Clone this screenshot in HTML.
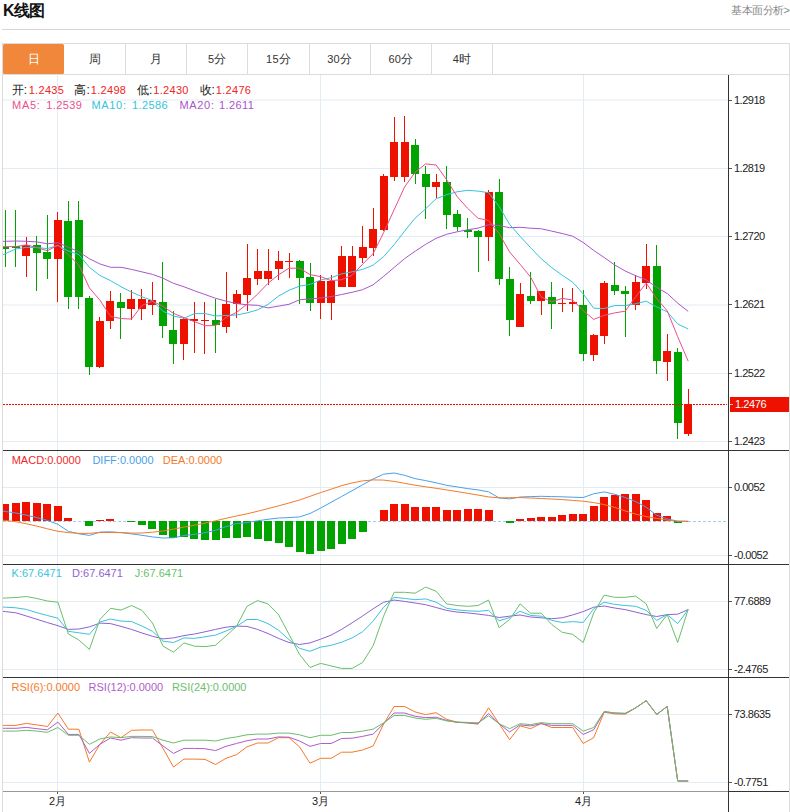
<!DOCTYPE html><html><head><meta charset="utf-8"><style>
html,body{margin:0;padding:0;background:#fff;}
body{width:790px;height:812px;overflow:hidden;position:relative;font-family:"Liberation Sans",sans-serif;}
.h{position:absolute;left:3px;top:1px;font-size:16px;font-weight:bold;line-height:20px;color:#111;letter-spacing:-0.7px;}
.more{position:absolute;right:0.5px;top:3px;font-size:11px;letter-spacing:-0.5px;line-height:14px;color:#888;}
.hr{position:absolute;left:2px;top:29px;width:788px;height:1px;background:#d6d6d6;}
svg{position:absolute;left:0;top:0;}
svg text{font-family:"Liberation Sans",sans-serif;}
</style></head><body>
<div class="h">K线图</div>
<div class="more">基本面分析&gt;</div>
<div class="hr"></div>
<svg width="790" height="812" viewBox="0 0 790 812">
<defs>
<clipPath id="cm"><rect x="3" y="75" width="725" height="375"/></clipPath>
<clipPath id="cp"><rect x="3" y="451" width="725" height="340"/></clipPath>
</defs>

<rect x="2" y="43" width="787" height="1" fill="#dcdcdc"/>
<rect x="3" y="44" width="61" height="30" rx="1.5" fill="#f0873a"/>
<rect x="125" y="44" width="1" height="30" fill="#dcdcdc"/>
<rect x="186" y="44" width="1" height="30" fill="#dcdcdc"/>
<rect x="247" y="44" width="1" height="30" fill="#dcdcdc"/>
<rect x="309" y="44" width="1" height="30" fill="#dcdcdc"/>
<rect x="370" y="44" width="1" height="30" fill="#dcdcdc"/>
<rect x="431" y="44" width="1" height="30" fill="#dcdcdc"/>
<rect x="492" y="44" width="1" height="30" fill="#dcdcdc"/>
<text x="33.6" y="62.5" font-size="12" fill="#fff" text-anchor="middle">日</text>
<text x="94.8" y="62.5" font-size="12" fill="#333" text-anchor="middle">周</text>
<text x="156.0" y="62.5" font-size="12" fill="#333" text-anchor="middle">月</text>
<text x="217.2" y="62.5" font-size="12" fill="#333" text-anchor="middle"><tspan font-size="11" letter-spacing="0.3">5</tspan>分</text>
<text x="278.4" y="62.5" font-size="12" fill="#333" text-anchor="middle"><tspan font-size="11" letter-spacing="0.3">15</tspan>分</text>
<text x="339.6" y="62.5" font-size="12" fill="#333" text-anchor="middle"><tspan font-size="11" letter-spacing="0.3">30</tspan>分</text>
<text x="400.8" y="62.5" font-size="12" fill="#333" text-anchor="middle"><tspan font-size="11" letter-spacing="0.3">60</tspan>分</text>
<text x="462.0" y="62.5" font-size="12" fill="#333" text-anchor="middle"><tspan font-size="11" letter-spacing="0.3">4</tspan>时</text>
<rect x="2" y="74" width="787" height="1" fill="#dcdcdc"/>
<rect x="2" y="43" width="1" height="769" fill="#dcdcdc"/>
<rect x="789" y="43" width="1" height="769" fill="#dcdcdc"/>
<line x1="3" y1="100.0" x2="728" y2="100.0" stroke="#e4ecf3" stroke-width="1"/>
<line x1="3" y1="168.5" x2="728" y2="168.5" stroke="#e4ecf3" stroke-width="1"/>
<line x1="3" y1="236.5" x2="728" y2="236.5" stroke="#e4ecf3" stroke-width="1"/>
<line x1="3" y1="305.0" x2="728" y2="305.0" stroke="#e4ecf3" stroke-width="1"/>
<line x1="3" y1="373.5" x2="728" y2="373.5" stroke="#e4ecf3" stroke-width="1"/>
<line x1="3" y1="441.5" x2="728" y2="441.5" stroke="#e4ecf3" stroke-width="1"/>
<rect x="57" y="75" width="1" height="716" fill="#e4ecf3"/>
<rect x="320" y="75" width="1" height="716" fill="#e4ecf3"/>
<rect x="583" y="75" width="1" height="716" fill="#e4ecf3"/>
<rect x="3" y="487" width="725" height="1" fill="#e4ecf3"/>
<rect x="3" y="555" width="725" height="1" fill="#e4ecf3"/>
<rect x="3" y="601" width="725" height="1" fill="#e4ecf3"/>
<rect x="3" y="669" width="725" height="1" fill="#e4ecf3"/>
<rect x="3" y="714" width="725" height="1" fill="#e4ecf3"/>
<rect x="3" y="782" width="725" height="1" fill="#e4ecf3"/>
<rect x="728" y="75" width="1" height="737" fill="#333"/>
<rect x="3" y="450" width="786" height="1" fill="#333"/>
<rect x="3" y="564" width="786" height="1" fill="#333"/>
<rect x="3" y="677" width="786" height="1" fill="#333"/>
<rect x="3" y="791" width="725" height="1" fill="#999"/>
<rect x="728" y="791" width="61" height="1" fill="#333"/>
<rect x="729" y="100" width="3" height="1" fill="#555"/>
<text x="734" y="103.7" font-size="11" letter-spacing="-0.5" fill="#222">1.2918</text>
<rect x="729" y="168" width="3" height="1" fill="#555"/>
<text x="734" y="171.7" font-size="11" letter-spacing="-0.5" fill="#222">1.2819</text>
<rect x="729" y="236" width="3" height="1" fill="#555"/>
<text x="734" y="239.7" font-size="11" letter-spacing="-0.5" fill="#222">1.2720</text>
<rect x="729" y="304" width="3" height="1" fill="#555"/>
<text x="734" y="308.2" font-size="11" letter-spacing="-0.5" fill="#222">1.2621</text>
<rect x="729" y="373" width="3" height="1" fill="#555"/>
<text x="734" y="376.7" font-size="11" letter-spacing="-0.5" fill="#222">1.2522</text>
<rect x="729" y="441" width="3" height="1" fill="#555"/>
<text x="734" y="444.7" font-size="11" letter-spacing="-0.5" fill="#222">1.2423</text>
<rect x="729" y="487" width="3" height="1" fill="#555"/>
<text x="734" y="490.7" font-size="11" letter-spacing="-0.5" fill="#222">0.0052</text>
<rect x="729" y="555" width="3" height="1" fill="#555"/>
<text x="734" y="558.7" font-size="11" letter-spacing="-0.5" fill="#222">-0.0052</text>
<rect x="729" y="601" width="3" height="1" fill="#555"/>
<text x="734" y="604.7" font-size="11" letter-spacing="-0.5" fill="#222">77.6889</text>
<rect x="729" y="669" width="3" height="1" fill="#555"/>
<text x="734" y="672.7" font-size="11" letter-spacing="-0.5" fill="#222">-2.4765</text>
<rect x="729" y="714" width="3" height="1" fill="#555"/>
<text x="734" y="717.7" font-size="11" letter-spacing="-0.5" fill="#222">73.8635</text>
<rect x="729" y="782" width="3" height="1" fill="#555"/>
<text x="734" y="785.7" font-size="11" letter-spacing="-0.5" fill="#222">-0.7751</text>
<rect x="57" y="792" width="1" height="2" fill="#555"/>
<text x="57.5" y="805" font-size="11" fill="#222" text-anchor="middle">2月</text>
<rect x="320" y="792" width="1" height="2" fill="#555"/>
<text x="320.5" y="805" font-size="11" fill="#222" text-anchor="middle">3月</text>
<rect x="583" y="792" width="1" height="2" fill="#555"/>
<text x="583.5" y="805" font-size="11" fill="#222" text-anchor="middle">4月</text>
<rect x="730" y="397" width="59" height="15" fill="#ee1100"/>
<rect x="730" y="404" width="3" height="1" fill="#f9b8b0"/>
<text x="735" y="408.2" font-size="11" letter-spacing="-0.4" fill="#fff">1.2476</text>
<g clip-path="url(#cm)" shape-rendering="crispEdges">
<rect x="5" y="210.0" width="1" height="56.7" fill="#00a300"/>
<rect x="1" y="246.6" width="8" height="2.3" fill="#00a300"/>
<rect x="15" y="210.0" width="1" height="56.7" fill="#00a300"/>
<rect x="12" y="246.0" width="8" height="2.0" fill="#00a300"/>
<rect x="26" y="236.8" width="1" height="39.7" fill="#ee1100"/>
<rect x="22" y="245.0" width="8" height="11.0" fill="#ee1100"/>
<rect x="36" y="235.6" width="1" height="55.4" fill="#00a300"/>
<rect x="33" y="245.0" width="8" height="7.7" fill="#00a300"/>
<rect x="47" y="215.0" width="1" height="64.3" fill="#00a300"/>
<rect x="43" y="252.0" width="8" height="7.4" fill="#00a300"/>
<rect x="57" y="211.7" width="1" height="90.1" fill="#ee1100"/>
<rect x="54" y="220.0" width="8" height="39.0" fill="#ee1100"/>
<rect x="68" y="200.5" width="1" height="108.5" fill="#00a300"/>
<rect x="64" y="220.6" width="8" height="76.3" fill="#00a300"/>
<rect x="78" y="200.5" width="1" height="108.0" fill="#00a300"/>
<rect x="75" y="220.0" width="8" height="76.9" fill="#00a300"/>
<rect x="89" y="296.4" width="1" height="79.0" fill="#00a300"/>
<rect x="85" y="298.0" width="8" height="68.5" fill="#00a300"/>
<rect x="99" y="317.4" width="1" height="51.0" fill="#ee1100"/>
<rect x="96" y="320.5" width="8" height="46.0" fill="#ee1100"/>
<rect x="110" y="290.5" width="1" height="38.1" fill="#ee1100"/>
<rect x="106" y="300.6" width="8" height="20.8" fill="#ee1100"/>
<rect x="120" y="293.0" width="1" height="45.7" fill="#00a300"/>
<rect x="117" y="301.8" width="8" height="6.6" fill="#00a300"/>
<rect x="131" y="289.7" width="1" height="30.1" fill="#ee1100"/>
<rect x="127" y="298.8" width="8" height="10.0" fill="#ee1100"/>
<rect x="141" y="289.0" width="1" height="30.8" fill="#ee1100"/>
<rect x="138" y="298.8" width="8" height="10.0" fill="#ee1100"/>
<rect x="152" y="282.0" width="1" height="32.7" fill="#ee1100"/>
<rect x="148" y="300.0" width="8" height="5.3" fill="#ee1100"/>
<rect x="162" y="261.6" width="1" height="76.0" fill="#00a300"/>
<rect x="159" y="301.8" width="8" height="23.9" fill="#00a300"/>
<rect x="173" y="311.2" width="1" height="52.6" fill="#00a300"/>
<rect x="169" y="329.9" width="8" height="14.0" fill="#00a300"/>
<rect x="183" y="316.6" width="1" height="43.2" fill="#ee1100"/>
<rect x="180" y="319.4" width="8" height="24.5" fill="#ee1100"/>
<rect x="194" y="302.3" width="1" height="51.0" fill="#ee1100"/>
<rect x="190" y="319.4" width="8" height="1.6" fill="#ee1100"/>
<rect x="204" y="301.8" width="1" height="51.9" fill="#ee1100"/>
<rect x="201" y="320.0" width="8" height="1.0" fill="#ee1100"/>
<rect x="215" y="298.8" width="1" height="54.5" fill="#00a300"/>
<rect x="212" y="320.0" width="8" height="5.2" fill="#00a300"/>
<rect x="226" y="271.9" width="1" height="61.5" fill="#ee1100"/>
<rect x="222" y="303.7" width="8" height="23.4" fill="#ee1100"/>
<rect x="236" y="289.8" width="1" height="28.2" fill="#ee1100"/>
<rect x="233" y="293.8" width="8" height="10.5" fill="#ee1100"/>
<rect x="247" y="243.6" width="1" height="67.3" fill="#ee1100"/>
<rect x="243" y="277.7" width="8" height="16.9" fill="#ee1100"/>
<rect x="257" y="249.0" width="1" height="36.2" fill="#ee1100"/>
<rect x="254" y="270.7" width="8" height="8.0" fill="#ee1100"/>
<rect x="268" y="249.0" width="1" height="36.2" fill="#ee1100"/>
<rect x="264" y="270.7" width="8" height="8.0" fill="#ee1100"/>
<rect x="278" y="250.6" width="1" height="29.2" fill="#ee1100"/>
<rect x="275" y="260.9" width="8" height="8.4" fill="#ee1100"/>
<rect x="289" y="252.5" width="1" height="25.2" fill="#ee1100"/>
<rect x="285" y="260.9" width="8" height="1.0" fill="#ee1100"/>
<rect x="299" y="259.5" width="1" height="44.4" fill="#00a300"/>
<rect x="296" y="260.9" width="8" height="16.8" fill="#00a300"/>
<rect x="310" y="263.0" width="1" height="47.5" fill="#00a300"/>
<rect x="306" y="276.8" width="8" height="25.9" fill="#00a300"/>
<rect x="320" y="274.7" width="1" height="44.4" fill="#ee1100"/>
<rect x="317" y="281.0" width="8" height="21.7" fill="#ee1100"/>
<rect x="331" y="274.7" width="1" height="45.1" fill="#ee1100"/>
<rect x="327" y="281.0" width="8" height="21.7" fill="#ee1100"/>
<rect x="341" y="245.5" width="1" height="41.5" fill="#ee1100"/>
<rect x="338" y="256.0" width="8" height="30.8" fill="#ee1100"/>
<rect x="352" y="246.2" width="1" height="40.8" fill="#ee1100"/>
<rect x="348" y="256.0" width="8" height="30.8" fill="#ee1100"/>
<rect x="362" y="226.3" width="1" height="36.2" fill="#ee1100"/>
<rect x="359" y="246.8" width="8" height="11.0" fill="#ee1100"/>
<rect x="373" y="208.0" width="1" height="48.2" fill="#ee1100"/>
<rect x="369" y="228.6" width="8" height="19.2" fill="#ee1100"/>
<rect x="383" y="174.4" width="1" height="56.6" fill="#ee1100"/>
<rect x="380" y="176.0" width="8" height="53.8" fill="#ee1100"/>
<rect x="394" y="116.8" width="1" height="64.6" fill="#ee1100"/>
<rect x="390" y="141.6" width="8" height="35.1" fill="#ee1100"/>
<rect x="404" y="116.4" width="1" height="65.4" fill="#ee1100"/>
<rect x="401" y="141.6" width="8" height="35.1" fill="#ee1100"/>
<rect x="415" y="138.6" width="1" height="45.6" fill="#00a300"/>
<rect x="411" y="144.9" width="8" height="28.7" fill="#00a300"/>
<rect x="425" y="165.5" width="1" height="53.3" fill="#00a300"/>
<rect x="422" y="173.6" width="8" height="12.9" fill="#00a300"/>
<rect x="436" y="173.6" width="1" height="24.6" fill="#ee1100"/>
<rect x="432" y="181.8" width="8" height="5.2" fill="#ee1100"/>
<rect x="446" y="165.5" width="1" height="63.1" fill="#00a300"/>
<rect x="443" y="182.3" width="8" height="32.3" fill="#00a300"/>
<rect x="457" y="209.9" width="1" height="21.0" fill="#00a300"/>
<rect x="453" y="213.9" width="8" height="12.8" fill="#00a300"/>
<rect x="467" y="217.9" width="1" height="19.9" fill="#00a300"/>
<rect x="464" y="229.6" width="8" height="2.4" fill="#00a300"/>
<rect x="478" y="229.6" width="1" height="42.8" fill="#00a300"/>
<rect x="474" y="230.8" width="8" height="5.8" fill="#00a300"/>
<rect x="488" y="189.9" width="1" height="70.8" fill="#ee1100"/>
<rect x="485" y="192.2" width="8" height="44.4" fill="#ee1100"/>
<rect x="499" y="178.9" width="1" height="105.7" fill="#00a300"/>
<rect x="495" y="192.2" width="8" height="87.2" fill="#00a300"/>
<rect x="509" y="267.0" width="1" height="69.0" fill="#00a300"/>
<rect x="506" y="278.7" width="8" height="40.9" fill="#00a300"/>
<rect x="520" y="282.7" width="1" height="44.4" fill="#ee1100"/>
<rect x="516" y="293.9" width="8" height="32.8" fill="#ee1100"/>
<rect x="530" y="272.2" width="1" height="31.5" fill="#00a300"/>
<rect x="527" y="295.8" width="8" height="4.7" fill="#00a300"/>
<rect x="541" y="291.1" width="1" height="23.9" fill="#ee1100"/>
<rect x="537" y="291.1" width="8" height="9.8" fill="#ee1100"/>
<rect x="551" y="281.8" width="1" height="46.7" fill="#00a300"/>
<rect x="548" y="297.4" width="8" height="6.3" fill="#00a300"/>
<rect x="562" y="288.1" width="1" height="24.1" fill="#ee1100"/>
<rect x="558" y="302.6" width="8" height="1.4" fill="#ee1100"/>
<rect x="572" y="287.6" width="1" height="24.6" fill="#ee1100"/>
<rect x="569" y="302.3" width="8" height="1.9" fill="#ee1100"/>
<rect x="583" y="290.2" width="1" height="70.4" fill="#00a300"/>
<rect x="579" y="304.5" width="8" height="49.0" fill="#00a300"/>
<rect x="593" y="334.4" width="1" height="26.2" fill="#ee1100"/>
<rect x="590" y="335.0" width="8" height="20.4" fill="#ee1100"/>
<rect x="604" y="280.6" width="1" height="63.8" fill="#ee1100"/>
<rect x="600" y="282.9" width="8" height="53.1" fill="#ee1100"/>
<rect x="614" y="261.9" width="1" height="32.7" fill="#00a300"/>
<rect x="611" y="284.6" width="8" height="6.0" fill="#00a300"/>
<rect x="625" y="286.0" width="1" height="50.7" fill="#00a300"/>
<rect x="621" y="290.6" width="8" height="3.3" fill="#00a300"/>
<rect x="635" y="275.2" width="1" height="34.6" fill="#ee1100"/>
<rect x="632" y="281.8" width="8" height="22.9" fill="#ee1100"/>
<rect x="646" y="243.9" width="1" height="44.9" fill="#ee1100"/>
<rect x="642" y="265.9" width="8" height="17.0" fill="#ee1100"/>
<rect x="656" y="244.8" width="1" height="128.9" fill="#00a300"/>
<rect x="653" y="265.9" width="8" height="95.1" fill="#00a300"/>
<rect x="667" y="334.2" width="1" height="46.4" fill="#ee1100"/>
<rect x="663" y="351.3" width="8" height="10.2" fill="#ee1100"/>
<rect x="677" y="347.7" width="1" height="91.2" fill="#00a300"/>
<rect x="674" y="352.3" width="8" height="71.1" fill="#00a300"/>
<rect x="688" y="389.0" width="1" height="47.1" fill="#ee1100"/>
<rect x="684" y="404.2" width="8" height="29.5" fill="#ee1100"/>
</g>
<line x1="3" y1="404.5" x2="727" y2="404.5" stroke="#ee1100" stroke-width="1" stroke-dasharray="2,1"/>
<polyline points="-5.1,241.6 5.4,241.3 15.9,241.0 26.4,241.3 36.9,241.9 47.4,243.8 57.9,242.7 68.4,247.2 78.9,251.8 89.4,258.8 99.9,263.9 110.5,267.3 121.0,267.3 131.5,269.4 142.0,271.9 152.5,274.4 163.0,278.2 173.5,283.3 184.0,286.8 194.5,290.8 205.0,294.5 215.5,298.3 226.0,301.1 236.5,303.5 247.0,304.8 257.5,305.3 268.0,307.9 278.5,306.1 289.0,304.3 299.5,299.8 310.0,298.9 320.6,298.0 331.1,296.6 341.6,294.5 352.1,292.3 362.6,289.7 373.1,284.8 383.6,276.4 394.1,267.5 404.6,258.6 415.1,251.3 425.6,244.4 436.1,238.3 446.6,234.3 457.1,231.8 467.6,229.8 478.1,228.1 488.6,224.7 499.1,225.6 509.6,227.7 520.1,227.3 530.6,228.2 541.2,228.8 551.7,231.1 562.2,233.5 572.7,236.2 583.2,242.5 593.7,250.4 604.2,257.5 614.7,265.0 625.2,271.0 635.7,275.7 646.2,279.9 656.7,287.3 667.2,293.5 677.7,303.1 688.2,311.4" fill="none" stroke="#aa55cc" stroke-width="1" stroke-linejoin="round" clip-path="url(#cm)"/>
<polyline points="-5.1,258.5 5.4,253.7 15.9,248.9 26.4,247.4 36.9,247.5 47.4,248.6 57.9,245.5 68.4,251.0 78.9,254.6 89.4,267.3 99.9,275.5 110.5,280.6 121.0,286.7 131.5,292.1 142.0,296.7 152.5,300.7 163.0,311.3 173.5,316.0 184.0,318.3 194.5,313.6 205.0,313.5 215.5,316.0 226.0,315.5 236.5,315.0 247.0,312.9 257.5,309.9 268.0,304.4 278.5,296.1 289.0,290.3 299.5,286.1 310.0,284.4 320.6,280.0 331.1,277.7 341.6,273.9 352.1,271.8 362.6,269.4 373.1,265.2 383.6,256.7 394.1,244.7 404.6,231.1 415.1,218.2 425.6,208.8 436.1,198.8 446.6,194.7 457.1,191.8 467.6,190.3 478.1,191.1 488.6,192.7 499.1,206.5 509.6,224.3 520.1,236.3 530.6,247.7 541.2,258.7 551.7,267.6 562.2,275.2 572.7,282.2 583.2,293.9 593.7,308.2 604.2,308.5 614.7,305.6 625.2,305.6 635.7,303.7 646.2,301.2 656.7,306.9 667.2,311.8 677.7,323.9 688.2,329.0" fill="none" stroke="#35c3dc" stroke-width="1" stroke-linejoin="round" clip-path="url(#cm)"/>
<polyline points="-5.1,246.6 5.4,246.6 15.9,246.6 26.4,244.9 36.9,247.5 47.4,250.8 57.9,245.0 68.4,254.8 78.9,265.2 89.4,287.9 99.9,300.2 110.5,316.3 121.0,318.6 131.5,319.0 142.0,305.4 152.5,301.3 163.0,306.3 173.5,313.4 184.0,317.6 194.5,321.7 205.0,325.7 215.5,325.6 226.0,317.5 236.5,312.4 247.0,304.1 257.5,294.2 268.0,283.3 278.5,274.8 289.0,268.2 299.5,268.2 310.0,274.6 320.6,276.6 331.1,280.7 341.6,279.7 352.1,275.3 362.6,264.2 373.1,253.7 383.6,232.7 394.1,209.8 404.6,186.9 415.1,172.3 425.6,163.9 436.1,165.0 446.6,179.6 457.1,196.6 467.6,208.3 478.1,218.3 488.6,220.4 499.1,233.4 509.6,252.0 520.1,264.3 530.6,277.1 541.2,296.9 551.7,301.8 562.2,298.4 572.7,300.0 583.2,310.6 593.7,319.4 604.2,315.3 614.7,312.9 625.2,311.2 635.7,296.8 646.2,283.0 656.7,298.6 667.2,310.8 677.7,336.7 688.2,361.2" fill="none" stroke="#e9508a" stroke-width="1" stroke-linejoin="round" clip-path="url(#cm)"/>
<line x1="3" y1="521.5" x2="726" y2="521.5" stroke="#98d0ee" stroke-width="1" stroke-dasharray="3,2"/>
<g clip-path="url(#cp)" shape-rendering="crispEdges">
<rect x="1" y="504.2" width="8" height="16.8" fill="#ee1100"/>
<rect x="12" y="502.9" width="8" height="18.1" fill="#ee1100"/>
<rect x="22" y="502.1" width="8" height="18.9" fill="#ee1100"/>
<rect x="33" y="502.9" width="8" height="18.1" fill="#ee1100"/>
<rect x="43" y="504.1" width="8" height="16.9" fill="#ee1100"/>
<rect x="54" y="505.9" width="8" height="15.1" fill="#ee1100"/>
<rect x="64" y="517.7" width="8" height="3.3" fill="#ee1100"/>
<rect x="85" y="521" width="8" height="5.3" fill="#00a300"/>
<rect x="96" y="519.7" width="8" height="1.3" fill="#ee1100"/>
<rect x="106" y="518.9" width="8" height="2.1" fill="#ee1100"/>
<rect x="127" y="521" width="8" height="1.0" fill="#00a300"/>
<rect x="138" y="521" width="8" height="3.8" fill="#00a300"/>
<rect x="148" y="521" width="8" height="7.9" fill="#00a300"/>
<rect x="159" y="521" width="8" height="13.7" fill="#00a300"/>
<rect x="169" y="521" width="8" height="16.8" fill="#00a300"/>
<rect x="180" y="521" width="8" height="15.6" fill="#00a300"/>
<rect x="190" y="521" width="8" height="17.8" fill="#00a300"/>
<rect x="201" y="521" width="8" height="18.9" fill="#00a300"/>
<rect x="212" y="521" width="8" height="19.4" fill="#00a300"/>
<rect x="222" y="521" width="8" height="17.3" fill="#00a300"/>
<rect x="233" y="521" width="8" height="16.8" fill="#00a300"/>
<rect x="243" y="521" width="8" height="15.9" fill="#00a300"/>
<rect x="254" y="521" width="8" height="17.6" fill="#00a300"/>
<rect x="264" y="521" width="8" height="19.7" fill="#00a300"/>
<rect x="275" y="521" width="8" height="21.7" fill="#00a300"/>
<rect x="285" y="521" width="8" height="25.8" fill="#00a300"/>
<rect x="296" y="521" width="8" height="30.7" fill="#00a300"/>
<rect x="306" y="521" width="8" height="33.4" fill="#00a300"/>
<rect x="317" y="521" width="8" height="30.1" fill="#00a300"/>
<rect x="327" y="521" width="8" height="27.6" fill="#00a300"/>
<rect x="338" y="521" width="8" height="22.7" fill="#00a300"/>
<rect x="348" y="521" width="8" height="18.0" fill="#00a300"/>
<rect x="359" y="521" width="8" height="10.6" fill="#00a300"/>
<rect x="380" y="509.8" width="8" height="11.2" fill="#ee1100"/>
<rect x="390" y="504.0" width="8" height="17.0" fill="#ee1100"/>
<rect x="401" y="504.0" width="8" height="17.0" fill="#ee1100"/>
<rect x="411" y="507.0" width="8" height="14.0" fill="#ee1100"/>
<rect x="422" y="507.0" width="8" height="14.0" fill="#ee1100"/>
<rect x="432" y="507.0" width="8" height="14.0" fill="#ee1100"/>
<rect x="443" y="509.8" width="8" height="11.2" fill="#ee1100"/>
<rect x="453" y="509.8" width="8" height="11.2" fill="#ee1100"/>
<rect x="464" y="508.9" width="8" height="12.1" fill="#ee1100"/>
<rect x="474" y="508.9" width="8" height="12.1" fill="#ee1100"/>
<rect x="485" y="509.8" width="8" height="11.2" fill="#ee1100"/>
<rect x="506" y="521" width="8" height="2.4" fill="#00a300"/>
<rect x="516" y="519.0" width="8" height="2.0" fill="#ee1100"/>
<rect x="527" y="518.0" width="8" height="3.0" fill="#ee1100"/>
<rect x="537" y="516.8" width="8" height="4.2" fill="#ee1100"/>
<rect x="548" y="516.8" width="8" height="4.2" fill="#ee1100"/>
<rect x="558" y="515.2" width="8" height="5.8" fill="#ee1100"/>
<rect x="569" y="514.4" width="8" height="6.6" fill="#ee1100"/>
<rect x="579" y="514.0" width="8" height="7.0" fill="#ee1100"/>
<rect x="590" y="505.6" width="8" height="15.4" fill="#ee1100"/>
<rect x="600" y="496.8" width="8" height="24.2" fill="#ee1100"/>
<rect x="611" y="495.1" width="8" height="25.9" fill="#ee1100"/>
<rect x="621" y="494.1" width="8" height="26.9" fill="#ee1100"/>
<rect x="632" y="494.3" width="8" height="26.7" fill="#ee1100"/>
<rect x="642" y="499.9" width="8" height="21.1" fill="#ee1100"/>
<rect x="653" y="513.0" width="8" height="8.0" fill="#ee1100"/>
<rect x="663" y="516.0" width="8" height="5.0" fill="#ee1100"/>
<rect x="674" y="521" width="8" height="1.9" fill="#00a300"/>
</g>
<polyline points="-5.1,510.0 5.4,511.5 15.9,513.0 26.4,515.2 36.9,517.6 47.4,520.4 57.9,524.3 68.4,531.4 78.9,533.8 89.4,535.4 99.9,532.1 110.5,531.8 121.0,532.6 131.5,533.9 142.0,535.3 152.5,536.9 163.0,538.0 173.5,537.8 184.0,535.5 194.5,534.3 205.0,532.8 215.5,530.3 226.0,526.6 236.5,523.6 247.0,522.6 257.5,520.8 268.0,519.3 278.5,518.0 289.0,517.6 299.5,516.9 310.0,513.5 320.6,508.1 331.1,502.3 341.6,496.5 352.1,490.7 362.6,484.8 373.1,479.0 383.6,474.2 394.1,473.0 404.6,475.3 415.1,478.6 425.6,480.6 436.1,482.8 446.6,485.3 457.1,486.9 467.6,488.6 478.1,489.9 488.6,491.8 499.1,497.9 509.6,498.9 520.1,497.0 530.6,496.6 541.2,496.3 551.7,496.6 562.2,496.8 572.7,497.2 583.2,497.5 593.7,493.8 604.2,491.9 614.7,494.3 625.2,497.5 635.7,501.6 646.2,507.3 656.7,515.2 667.2,518.9 677.7,521.1 688.2,521.3" fill="none" stroke="#4aa0ea" stroke-width="1" stroke-linejoin="round" clip-path="url(#cp)"/>
<polyline points="-5.1,519.3 5.4,520.5 15.9,521.7 26.4,523.8 36.9,526.1 47.4,528.8 57.9,531.3 68.4,532.6 78.9,533.4 89.4,533.3 99.9,532.5 110.5,532.5 121.0,532.6 131.5,533.1 142.0,533.0 152.5,532.2 163.0,531.0 173.5,529.1 184.0,527.1 194.5,525.2 205.0,523.1 215.5,520.8 226.0,518.3 236.5,516.0 247.0,513.8 257.5,511.3 268.0,508.6 278.5,505.9 289.0,503.0 299.5,500.0 310.0,496.3 320.6,492.6 331.1,489.2 341.6,485.7 352.1,482.9 362.6,480.9 373.1,479.9 383.6,480.1 394.1,481.4 404.6,483.3 415.1,485.2 425.6,486.8 436.1,488.3 446.6,489.9 457.1,491.6 467.6,493.3 478.1,495.1 488.6,496.9 499.1,497.9 509.6,497.7 520.1,497.6 530.6,498.0 541.2,498.5 551.7,499.0 562.2,499.6 572.7,500.4 583.2,501.2 593.7,502.6 604.2,504.6 614.7,507.4 625.2,510.9 635.7,514.1 646.2,516.6 656.7,518.4 667.2,520.1 677.7,521.3 688.2,521.3" fill="none" stroke="#f47a2a" stroke-width="1" stroke-linejoin="round" clip-path="url(#cp)"/>
<polyline points="-5.1,610.4 5.4,611.6 15.9,612.8 26.4,616.0 36.9,619.3 47.4,622.6 57.9,625.7 68.4,629.4 78.9,629.0 89.4,626.9 99.9,623.1 110.5,623.6 121.0,626.4 131.5,629.4 142.0,633.0 152.5,636.3 163.0,638.9 173.5,637.9 184.0,635.6 194.5,634.0 205.0,631.8 215.5,629.4 226.0,627.2 236.5,626.1 247.0,626.4 257.5,629.4 268.0,633.5 278.5,638.4 289.0,642.5 299.5,644.5 310.0,642.9 320.6,639.2 331.1,635.1 341.6,629.4 352.1,622.8 362.6,616.0 373.1,608.8 383.6,602.2 394.1,600.1 404.6,601.4 415.1,603.0 425.6,604.7 436.1,607.5 446.6,610.4 457.1,612.1 467.6,612.9 478.1,614.1 488.6,615.4 499.1,617.5 509.6,616.2 520.1,615.0 530.6,617.0 541.2,617.8 551.7,618.7 562.2,617.8 572.7,614.9 583.2,611.6 593.7,607.2 604.2,606.0 614.7,608.0 625.2,609.6 635.7,612.1 646.2,614.6 656.7,616.5 667.2,614.6 677.7,614.2 688.2,609.6" fill="none" stroke="#9161d1" stroke-width="1" stroke-linejoin="round" clip-path="url(#cp)"/>
<polyline points="-5.1,606.6 5.4,607.2 15.9,607.8 26.4,609.4 36.9,612.7 47.4,615.5 57.9,618.2 68.4,631.3 78.9,632.8 89.4,634.3 99.9,622.0 110.5,619.0 121.0,621.1 131.5,621.5 142.0,626.1 152.5,631.3 163.0,641.2 173.5,642.5 184.0,637.9 194.5,638.4 205.0,636.8 215.5,635.1 226.0,631.0 236.5,626.4 247.0,619.5 257.5,619.5 268.0,623.6 278.5,630.2 289.0,639.6 299.5,648.3 310.0,651.3 320.6,647.1 331.1,645.3 341.6,642.2 352.1,637.9 362.6,631.8 373.1,621.1 383.6,607.2 394.1,597.3 404.6,598.4 415.1,599.7 425.6,598.9 436.1,602.2 446.6,608.3 457.1,609.9 467.6,610.8 478.1,611.3 488.6,610.4 499.1,620.8 509.6,617.5 520.1,611.3 530.6,615.4 541.2,616.2 551.7,620.3 562.2,622.5 572.7,621.6 583.2,622.5 593.7,608.8 604.2,602.2 614.7,604.4 625.2,605.5 635.7,606.3 646.2,610.4 656.7,620.3 667.2,614.6 677.7,623.6 688.2,609.6" fill="none" stroke="#3cc2dc" stroke-width="1" stroke-linejoin="round" clip-path="url(#cp)"/>
<polyline points="-5.1,598.5 5.4,598.0 15.9,597.5 26.4,596.5 36.9,598.5 47.4,601.0 57.9,602.2 68.4,634.0 78.9,640.0 89.4,649.4 99.9,619.5 110.5,608.3 121.0,610.1 131.5,605.5 142.0,610.4 152.5,623.1 163.0,646.2 173.5,652.1 184.0,642.9 194.5,646.2 205.0,646.6 215.5,645.3 226.0,636.0 236.5,626.4 247.0,606.3 257.5,600.6 268.0,603.9 278.5,614.6 289.0,634.3 299.5,654.4 310.0,667.5 320.6,663.4 331.1,665.9 341.6,668.4 352.1,668.4 362.6,662.5 373.1,645.8 383.6,616.2 394.1,592.3 404.6,592.3 415.1,593.2 425.6,587.1 436.1,591.2 446.6,603.9 457.1,605.5 467.6,606.3 478.1,605.5 488.6,600.1 499.1,627.7 509.6,619.5 520.1,603.9 530.6,613.2 541.2,613.2 551.7,624.4 562.2,632.3 572.7,634.3 583.2,642.5 593.7,612.9 604.2,595.1 614.7,597.3 625.2,597.3 635.7,596.1 646.2,603.9 656.7,628.5 667.2,614.6 677.7,642.5 688.2,609.3" fill="none" stroke="#6abf69" stroke-width="1" stroke-linejoin="round" clip-path="url(#cp)"/>
<polyline points="-5.1,725.4 5.4,725.4 15.9,725.4 26.4,723.4 36.9,724.9 47.4,726.5 57.9,713.0 68.4,729.2 78.9,729.2 89.4,762.1 99.9,744.3 110.5,732.0 121.0,737.7 131.5,730.3 142.0,730.0 152.5,730.0 163.0,748.4 173.5,767.0 184.0,759.1 194.5,759.1 205.0,759.4 215.5,764.5 226.0,758.3 236.5,754.7 247.0,746.8 257.5,743.0 268.0,743.0 278.5,737.7 289.0,737.7 299.5,746.8 310.0,763.2 320.6,758.3 331.1,758.3 341.6,752.2 352.1,752.2 362.6,750.0 373.1,746.0 383.6,724.0 394.1,706.5 404.6,706.5 415.1,711.9 425.6,714.7 436.1,712.7 446.6,719.3 457.1,722.1 467.6,722.9 478.1,724.2 488.6,707.8 499.1,723.7 509.6,739.7 520.1,725.9 530.6,728.7 541.2,723.4 551.7,727.5 562.2,727.5 572.7,727.5 583.2,743.5 593.7,737.7 604.2,712.2 614.7,713.9 625.2,714.2 635.7,707.8 646.2,700.7 656.7,714.4 667.2,706.5 677.7,781.0 688.2,781.0" fill="none" stroke="#f57a28" stroke-width="1" stroke-linejoin="round" clip-path="url(#cp)"/>
<polyline points="-5.1,728.3 5.4,728.3 15.9,728.3 26.4,727.4 36.9,728.7 47.4,729.8 57.9,722.1 68.4,734.4 78.9,734.4 89.4,753.4 99.9,744.3 110.5,738.0 121.0,740.2 131.5,737.7 142.0,738.0 152.5,738.0 163.0,746.0 173.5,753.4 184.0,748.4 194.5,748.4 205.0,748.7 215.5,750.6 226.0,746.3 236.5,743.5 247.0,740.7 257.5,739.0 268.0,739.0 278.5,736.9 289.0,737.2 299.5,741.0 310.0,746.4 320.6,743.5 331.1,743.5 341.6,738.5 352.1,738.2 362.6,736.4 373.1,734.1 383.6,723.7 394.1,713.0 404.6,713.0 415.1,716.3 425.6,717.6 436.1,717.2 446.6,720.4 457.1,722.4 467.6,722.9 478.1,723.4 488.6,713.5 499.1,723.7 509.6,732.0 520.1,724.9 530.6,725.9 541.2,723.7 551.7,725.4 562.2,725.4 572.7,725.4 583.2,734.4 593.7,729.8 604.2,711.7 614.7,713.0 625.2,713.4 635.7,707.8 646.2,700.7 656.7,714.4 667.2,706.5 677.7,781.0 688.2,781.0" fill="none" stroke="#b05ccc" stroke-width="1" stroke-linejoin="round" clip-path="url(#cp)"/>
<polyline points="-5.1,731.1 5.4,731.1 15.9,731.1 26.4,730.3 36.9,731.1 47.4,732.3 57.9,727.5 68.4,735.3 78.9,735.3 89.4,744.3 99.9,739.0 110.5,736.9 121.0,737.7 131.5,736.4 142.0,736.4 152.5,736.6 163.0,740.2 173.5,743.0 184.0,740.2 194.5,740.2 205.0,740.2 215.5,741.0 226.0,738.5 236.5,736.9 247.0,734.8 257.5,734.1 268.0,734.1 278.5,733.1 289.0,733.1 299.5,734.8 310.0,737.7 320.6,735.3 331.1,735.3 341.6,732.5 352.1,732.5 362.6,731.1 373.1,729.2 383.6,722.9 394.1,715.5 404.6,715.5 415.1,718.0 425.6,719.3 436.1,718.3 446.6,720.9 457.1,722.1 467.6,722.4 478.1,722.9 488.6,715.8 499.1,723.7 509.6,728.7 520.1,723.7 530.6,724.6 541.2,722.6 551.7,723.7 562.2,723.7 572.7,723.7 583.2,731.1 593.7,727.5 604.2,711.4 614.7,713.0 625.2,713.4 635.7,707.8 646.2,700.7 656.7,714.4 667.2,706.5 677.7,781.0 688.2,781.0" fill="none" stroke="#6cbd6c" stroke-width="1" stroke-linejoin="round" clip-path="url(#cp)"/>
<text x="11.7" y="94.0" font-size="12" fill="#222">开:</text>
<text x="28.7" y="94.0" font-size="11" fill="#f0241a" letter-spacing="0.3">1.2435</text>
<text x="74.4" y="94.0" font-size="12" fill="#222">高:</text>
<text x="90.8" y="94.0" font-size="11" fill="#f0241a" letter-spacing="0.3">1.2498</text>
<text x="136.9" y="94.0" font-size="12" fill="#222">低:</text>
<text x="153.3" y="94.0" font-size="11" fill="#f0241a" letter-spacing="0.3">1.2430</text>
<text x="199.5" y="94.0" font-size="12" fill="#222">收:</text>
<text x="215.8" y="94.0" font-size="11" fill="#f0241a" letter-spacing="0.3">1.2476</text>
<text x="12.1" y="109.0" font-size="11" fill="#e9508a" letter-spacing="0.7">MA5:</text>
<text x="46.3" y="109.0" font-size="11" fill="#e9508a" letter-spacing="0.4">1.2539</text>
<text x="91.4" y="109.0" font-size="11" fill="#35c3dc" letter-spacing="0.7">MA10:</text>
<text x="132.1" y="109.0" font-size="11" fill="#35c3dc" letter-spacing="0.4">1.2586</text>
<text x="179.4" y="109.0" font-size="11" fill="#aa55cc" letter-spacing="0.7">MA20:</text>
<text x="219.0" y="109.0" font-size="11" fill="#aa55cc" letter-spacing="0.4">1.2611</text>
<text x="11.7" y="463.7" font-size="11" fill="#ee2a2a">MACD:0.0000</text>
<text x="92.4" y="463.7" font-size="11" fill="#4a9fe8">DIFF:0.0000</text>
<text x="162.8" y="463.7" font-size="11" fill="#f47a2a">DEA:0.0000</text>
<text x="11.6" y="577.0" font-size="11" fill="#3cc2dc">K:67.6471</text>
<text x="72.1" y="577.0" font-size="11" fill="#9161d1">D:67.6471</text>
<text x="134.8" y="577.0" font-size="11" fill="#6abf69">J:67.6471</text>
<text x="11.6" y="690.5" font-size="11" fill="#f57a28">RSI(6):0.0000</text>
<text x="88.6" y="690.5" font-size="11" fill="#b05ccc">RSI(12):0.0000</text>
<text x="171.9" y="690.5" font-size="11" fill="#6cbd6c">RSI(24):0.0000</text>
</svg></body></html>
